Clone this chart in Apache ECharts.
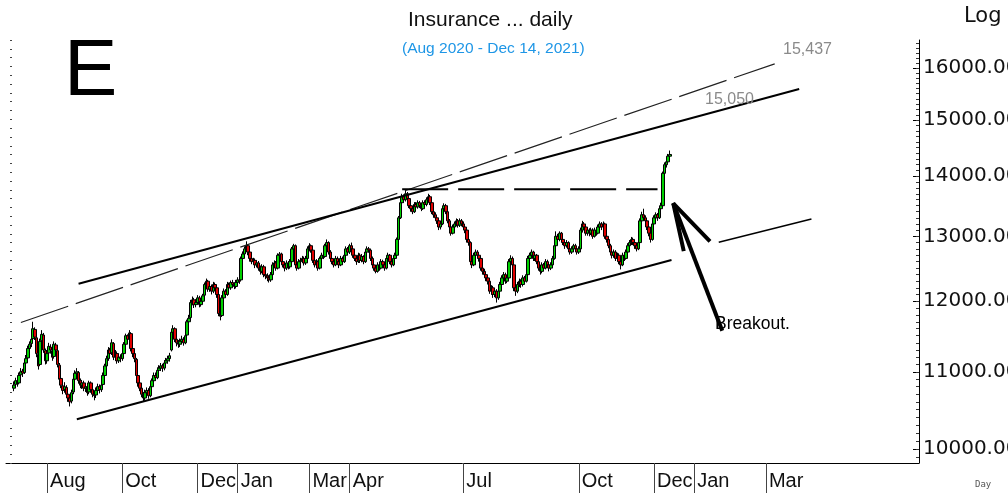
<!DOCTYPE html>
<html>
<head>
<meta charset="utf-8">
<title>Insurance ... daily</title>
<script src="https://cdn.jsdelivr.net/npm/echarts@6/dist/echarts.min.js"></script>
<style>
  html, body { margin: 0; padding: 0; height: 100%; overflow: hidden; background: #fff; }
  #main { width: 1008px; height: 497px; }
</style>
</head>
<body>
<div id="main"></div>
<script>
// daily bars, [open, close, low, high], one array per month
const jul2020 = [
  [10780,10820,10740,10870],[10830,10880,10790,10920],[10880,10850,10800,10910],[10850,10950,10830,10990],
  [10960,11000,10920,11050],[11010,10980,10930,11040],[10990,11120,10970,11160],[11120,11180,11080,11230],
  [11190,11320,11160,11360],[11320,11380,11270,11420],[11390,11450,11340,11500],[11460,11600,11430,11700],
  [11590,11480,11440,11620],[11470,11250,11200,11500],[11240,11080,11030,11280],[11100,11420,11080,11460],
  [11430,11520,11380,11580],[11510,11300,11260,11540],[11290,11150,11100,11320]
];
const aug2020 = [
  [11150,11250,11110,11300],[11260,11350,11220,11400],[11340,11300,11250,11380],[11290,11200,11150,11330],
  [11210,11380,11180,11420],[11370,11300,11260,11400],[11290,11100,11060,11320],[11090,10900,10860,11120],
  [10910,10820,10780,10950],[10810,10750,10700,10850],[10760,10800,10720,10860],[10790,10700,10660,10820],
  [10700,10650,10600,10740],[10650,10600,10540,10690],[10610,10720,10580,10760],[10730,10900,10700,10940],
  [10900,10980,10860,11020],[10980,11000,10930,11050],[10990,10880,10840,11010],[10880,10820,10780,10910],
  [10820,10850,10770,10890]
];
const sep2020 = [
  [10850,10780,10740,10880],[10780,10800,10730,10850],[10800,10720,10680,10830],[10730,10850,10700,10880],
  [10850,10760,10720,10870],[10760,10700,10660,10790],[10700,10680,10620,10740],[10690,10750,10650,10790],
  [10750,10800,10720,10840],[10800,10760,10710,10830],[10760,10820,10730,10860],[10830,10950,10800,10990],
  [10950,11080,10920,11110],[11080,11180,11050,11220],[11180,11300,11150,11340],[11300,11250,11200,11330],
  [11260,11400,11230,11450],[11390,11200,11160,11410],[11200,11250,11150,11300],[11250,11150,11110,11280],
  [11150,11200,11120,11250],[11200,11180,11130,11240]
];
const oct2020 = [
  [11180,11250,11150,11290],[11250,11380,11220,11410],[11380,11500,11350,11530],[11500,11450,11400,11520],
  [11450,11540,11420,11580],[11530,11320,11280,11550],[11320,11250,11200,11350],[11250,11180,11130,11290],
  [11170,10950,10910,11190],[10950,10850,10800,10980],[10850,10780,10740,10880],[10780,10700,10660,10800],
  [10700,10650,10600,10730],[10650,10720,10620,10760],[10720,10750,10680,10790],[10750,10680,10640,10780],
  [10680,10800,10660,10830],[10800,10880,10770,10910],[10880,10950,10850,10990],[10950,10920,10880,10990],
  [10920,11020,10900,11060],[11020,11050,10990,11090]
];
const nov2020 = [
  [11050,11080,11010,11120],[11080,11050,11000,11110],[11050,11120,11020,11160],[11120,11150,11080,11190],
  [11150,11180,11110,11220],[11180,11220,11140,11260],[11300,11550,11280,11590],[11550,11600,11500,11650],
  [11600,11450,11410,11620],[11450,11400,11350,11480],[11400,11380,11330,11440],[11380,11420,11340,11460],
  [11420,11450,11380,11500],[11450,11400,11360,11480],[11400,11500,11380,11540],[11510,11700,11490,11730],
  [11700,11750,11660,11800],[11760,11980,11740,12020],[11980,12020,11940,12070],[12020,11950,11900,12050],
  [11950,11980,11910,12030]
];
const dec2020 = [
  [11980,12050,11950,12090],[12050,11950,11910,12080],[11950,12000,11920,12040],[12000,12080,11970,12110],
  [12090,12250,12070,12280],[12250,12300,12210,12340],[12300,12180,12140,12320],[12180,12220,12140,12260],
  [12220,12150,12100,12250],[12150,12250,12120,12290],[12250,12200,12160,12280],[12200,12100,12050,12230],
  [12100,11820,11780,12120],[11820,11780,11720,11860],[11790,12050,11770,12090],[12050,12150,12020,12190],
  [12150,12100,12060,12180],[12100,12250,12080,12290],[12250,12200,12160,12280],[12200,12280,12170,12310],
  [12280,12250,12210,12320],[12250,12220,12180,12280],[12220,12280,12190,12320]
];
const jan2021 = [
  [12280,12320,12240,12360],[12320,12300,12260,12350],[12320,12650,12300,12680],[12650,12720,12610,12760],
  [12720,12800,12690,12840],[12800,12850,12760,12920],[12850,12750,12700,12870],[12750,12650,12600,12780],
  [12650,12600,12560,12690],[12600,12620,12560,12660],[12620,12550,12500,12650],[12550,12580,12510,12620],
  [12580,12500,12460,12610],[12500,12450,12400,12540],[12450,12520,12420,12560],[12520,12400,12360,12550],
  [12400,12380,12330,12440],[12380,12350,12300,12420],[12350,12320,12280,12390],[12320,12400,12290,12440],
  [12400,12550,12380,12590]
];
const feb2021 = [
  [12550,12580,12510,12620],[12580,12500,12460,12610],[12500,12700,12480,12730],[12700,12720,12660,12750],
  [12720,12600,12560,12740],[12600,12550,12510,12640],[12550,12500,12450,12580],[12500,12580,12470,12620],
  [12580,12520,12480,12610],[12520,12600,12490,12640],[12600,12800,12580,12830],[12800,12850,12760,12880],
  [12850,12550,12510,12870],[12550,12500,12460,12590],[12500,12600,12480,12640],[12600,12620,12560,12660],
  [12620,12650,12580,12690],[12650,12580,12540,12680],[12580,12650,12550,12690],[12650,12800,12630,12840]
];
const mar2021 = [
  [12800,12850,12760,12890],[12850,12780,12740,12870],[12780,12620,12580,12800],[12620,12550,12510,12650],
  [12550,12600,12520,12640],[12600,12500,12460,12620],[12500,12650,12480,12680],[12650,12700,12610,12740],
  [12700,12680,12640,12730],[12680,12850,12660,12880],[12850,12900,12810,12950],[12900,12750,12710,12920],
  [12750,12650,12610,12780],[12650,12600,12560,12680],[12600,12550,12510,12630],[12550,12650,12530,12690],
  [12650,12600,12560,12680],[12600,12550,12500,12630],[12550,12650,12530,12690],[12650,12600,12560,12680],
  [12600,12700,12580,12740],[12700,12800,12670,12840],[12800,12750,12700,12830]
];
const apr2021 = [
  [12750,12850,12720,12880],[12850,12800,12760,12900],[12800,12700,12660,12820],[12700,12650,12610,12730],
  [12650,12600,12550,12680],[12600,12700,12580,12740],[12700,12620,12580,12730],[12620,12680,12590,12720],
  [12680,12600,12560,12700],[12600,12750,12580,12790],[12750,12800,12710,12840],[12800,12780,12740,12830],
  [12780,12650,12610,12800],[12650,12550,12510,12680],[12550,12500,12460,12580],[12500,12450,12420,12540],
  [12450,12550,12430,12590],[12550,12500,12460,12580],[12500,12600,12480,12640],[12600,12550,12510,12630],
  [12550,12500,12460,12580],[12500,12650,12480,12680]
];
const may2021 = [
  [12650,12700,12610,12740],[12700,12600,12560,12720],[12600,12550,12510,12630],[12550,12650,12530,12690],
  [12650,12700,12620,12740],[12700,12950,12680,12980],[12950,13300,12930,13330],[13300,13550,13280,13590],
  [13550,13650,13510,13700],[13650,13600,13550,13690],[13600,13700,13570,13750],[13700,13620,13580,13730],
  [13620,13500,13460,13650],[13500,13450,13400,13530],[13450,13400,13360,13480],[13400,13520,13380,13560],
  [13520,13480,13440,13560],[13480,13550,13450,13590],[13550,13500,13460,13580],[13500,13450,13410,13540],
  [13450,13550,13430,13590]
];
const jun2021 = [
  [13550,13520,13480,13590],[13520,13600,13490,13640],[13600,13650,13570,13700],[13650,13550,13510,13680],
  [13550,13400,13360,13580],[13400,13350,13300,13440],[13350,13300,13260,13390],[13300,13250,13200,13330],
  [13250,13150,13100,13280],[13150,13200,13110,13240],[13200,13450,13180,13480],[13450,13500,13410,13540],
  [13500,13400,13360,13530],[13400,13250,13210,13430],[13250,13150,13100,13280],[13150,13050,13010,13180],
  [13050,13150,13030,13190],[13150,13200,13110,13240],[13200,13250,13160,13290],[13250,13180,13140,13280],
  [13180,13250,13150,13290],[13250,13200,13160,13280]
];
const jul2021 = [
  [13200,13150,13100,13240],[13150,13100,13050,13190],[13100,12950,12900,13120],[12950,12900,12850,12980],
  [12900,12600,12560,12920],[12600,12550,12500,12640],[12550,12700,12530,12740],[12700,12750,12660,12790],
  [12750,12700,12650,12780],[12700,12650,12600,12730],[12650,12500,12460,12680],[12500,12450,12400,12540],
  [12450,12400,12360,12490],[12400,12350,12300,12440],[12350,12300,12250,12390],[12300,12150,12110,12330],
  [12150,12200,12100,12240],[12200,12100,12050,12230],[12100,12150,12060,12190],[12150,12050,11980,12180],
  [12050,12150,12020,12190],[12150,12250,12120,12290]
];
const aug2021 = [
  [12250,12350,12220,12390],[12350,12400,12310,12440],[12400,12300,12260,12430],[12300,12350,12270,12390],
  [12350,12600,12330,12640],[12600,12650,12560,12700],[12650,12550,12500,12680],[12550,12200,12150,12570],
  [12200,12150,12080,12240],[12150,12250,12120,12290],[12250,12300,12210,12340],[12300,12250,12200,12330],
  [12250,12350,12220,12390],[12350,12300,12260,12380],[12300,12400,12280,12440],[12400,12650,12380,12690],
  [12650,12700,12610,12740],[12700,12750,12660,12790],[12750,12650,12610,12770],[12650,12700,12610,12740],
  [12700,12600,12560,12720],[12600,12500,12460,12630]
];
const sep2021 = [
  [12500,12450,12400,12530],[12450,12550,12420,12590],[12550,12500,12460,12580],[12500,12600,12480,12640],
  [12600,12550,12510,12630],[12550,12500,12450,12580],[12500,12550,12470,12590],[12550,12650,12530,12690],
  [12650,12850,12630,12890],[12850,13000,12820,13080],[13000,12950,12900,13040],[12950,13050,12920,13080],
  [13050,12950,12910,13070],[12950,12900,12860,12980],[12900,12850,12800,12930],[12850,12900,12820,12940],
  [12900,12800,12760,12920],[12800,12750,12710,12830],[12750,12800,12720,12840],[12800,12850,12760,12880],
  [12850,12800,12760,12880],[12800,12750,12710,12830]
];
const oct2021 = [
  [12750,12800,12720,12840],[12800,13100,12780,13140],[13100,13200,13060,13250],[13200,13150,13100,13230],
  [13150,13050,13010,13180],[13050,13100,13010,13140],[13100,13050,13000,13130],[13050,13100,13020,13140],
  [13100,13000,12960,13130],[13000,13100,12980,13140],[13100,13050,13010,13130],[13050,13150,13030,13190],
  [13150,13200,13110,13240],[13200,13150,13100,13230],[13150,13200,13120,13240],[13200,13000,12960,13220],
  [13000,12950,12900,13040],[12950,12850,12810,12980],[12850,12750,12710,12880],[12750,12700,12650,12790],
  [12700,12750,12660,12790]
];
const nov2021 = [
  [12750,12650,12610,12780],[12650,12700,12610,12740],[12700,12600,12560,12730],[12600,12550,12480,12640],
  [12550,12700,12530,12740],[12700,12650,12610,12730],[12650,12750,12630,12790],[12750,12850,12720,12890],
  [12850,12900,12810,12940],[12900,12950,12860,12990],[12950,12900,12860,12980],[12900,12850,12800,12930],
  [12850,12800,12760,12880],[12800,12900,12780,12940],[12900,13250,12880,13290],[13250,13350,13210,13400],
  [13350,13300,13260,13450],[13300,13250,13200,13340],[13250,13150,13100,13280],[13150,13050,13000,13180],
  [13050,12950,12900,13080],[12950,13200,12930,13240]
];
const dec2021 = [
  [13200,13300,13170,13340],[13300,13350,13260,13390],[13350,13300,13250,13380],[13300,13450,13280,13490],
  [13450,13500,13410,13550],[13500,14050,13480,14080],[14050,14200,14010,14240],[14200,14250,14150,14290],
  [14250,14350,14210,14390],[14350,14380,14300,14450]
];

const firstBarDate = '2020-07-07';
const axisStart = '2020-07-01';
const axisEnd = '2022-06-30';

// months that get a label on the time axis
const labelMonths = ['2020-08', '2020-10', '2020-12', '2021-01', '2021-03', '2021-04',
                     '2021-07', '2021-10', '2021-12', '2022-01', '2022-03'];
const monthNames = ['Jan', 'Feb', 'Mar', 'Apr', 'May', 'Jun', 'Jul', 'Aug', 'Sep', 'Oct', 'Nov', 'Dec'];

const priceTicks = [10000, 11000, 12000, 13000, 14000, 15000, 16000];
const priceMin = 9830;
const priceMax = 16560;

// drawn lines, [date, price]
const upperLine = [['2020-08-27', 12260], ['2022-03-28', 15590]];
const upperDashed = [['2020-07-13', 11690], ['2022-03-08', 16080]];
const supportLine = [['2020-08-26', 10375], ['2021-12-15', 12625]];
const supportLine2 = [['2022-01-21', 12905], ['2022-04-06', 13280]];
const breakoutLevel = [['2021-05-13', 13775], ['2021-12-03', 13775]];
const arrowShaft = [['2021-12-16', 13540], ['2022-01-25', 11570]];
const arrowHead = [['2022-01-14', 12920], ['2021-12-16', 13540], ['2021-12-24', 12765]];

// weekday categories for the whole axis
const dates = [];
for (let d = new Date(axisStart + 'T00:00:00Z'); d <= new Date(axisEnd + 'T00:00:00Z'); d.setUTCDate(d.getUTCDate() + 1)) {
    const wd = d.getUTCDay();
    if (wd !== 0 && wd !== 6) dates.push(d.toISOString().slice(0, 10));
}

const bars = [].concat(jul2020, aug2020, sep2020, oct2020, nov2020, dec2020,
    jan2021, feb2021, mar2021, apr2021, may2021, jun2021,
    jul2021, aug2021, sep2021, oct2021, nov2021, dec2021);
const start = dates.indexOf(firstBarDate);
const lg = v => Math.log10(v);

const candleData = dates.map((d, i) => {
    const b = bars[i - start];
    return b ? b.map(lg) : '-';
});

// first weekday of each labelled month
const labelIdx = new Set();
labelMonths.forEach(m => labelIdx.add(dates.findIndex(d => d.slice(0, 7) === m)));
const showMonth = idx => labelIdx.has(idx);

const toPts = pts => pts.map(p => [dates.indexOf(p[0]), lg(p[1])]);

function lineSeries(pts, width, type, color) {
    return {
        type: 'line',
        data: toPts(pts),
        yAxisIndex: 0,
        symbol: 'none',
        silent: true,
        z: 5,
        lineStyle: { color: color || '#000', width: width, type: type || 'solid' }
    };
}

const minorTicks = [];
for (let v = 9900; v <= 16500; v += 100) minorTicks.push(lg(v));

const chart = echarts.init(document.getElementById('main'));

chart.setOption({
    animation: false,
    backgroundColor: '#fff',
    grid: { left: 6, right: 89, top: 40, bottom: 34, containLabel: false, outerBoundsMode: 'none' },
    xAxis: {
        type: 'category',
        data: dates,
        axisLine: { lineStyle: { color: '#000', width: 1 } },
        axisTick: {
            show: true,
            alignWithLabel: true,
            interval: showMonth,
            length: 30,
            lineStyle: { color: '#444', width: 1 }
        },
        axisLabel: {
            interval: showMonth,
            formatter: v => monthNames[+v.slice(5, 7) - 1],
            align: 'left',
            padding: [0, 0, 0, 3],
            margin: 8,
            color: '#111',
            fontSize: 20,
            fontFamily: 'Liberation Sans'
        },
        splitLine: { show: false }
    },
    yAxis: [{
        type: 'value',
        position: 'right',
        min: lg(priceMin),
        max: lg(priceMax),
        axisLine: { show: true, lineStyle: { color: '#000' } },
        axisTick: { show: true, inside: true, length: 6, customValues: priceTicks.map(lg), lineStyle: { color: '#000' } },
        axisLabel: {
            customValues: priceTicks.map(lg),
            formatter: v => Math.round(Math.pow(10, v)).toFixed(2),
            margin: 4,
            color: '#111',
            fontSize: 20,
            fontFamily: 'DejaVu Sans'
        },
        splitLine: { show: false }
    }, {
        type: 'value',
        position: 'right',
        min: lg(priceMin),
        max: lg(priceMax),
        axisLine: { show: false },
        axisTick: { show: true, inside: true, length: 3, customValues: minorTicks, lineStyle: { color: '#333' } },
        axisLabel: { show: false },
        splitLine: { show: false }
    }, {
        type: 'value',
        position: 'left',
        offset: -4,
        min: 0,
        max: 48,
        interval: 1,
        axisLine: { show: false },
        axisTick: { show: true, inside: true, length: 2, lineStyle: { color: '#444' } },
        axisLabel: { show: false },
        splitLine: { show: false }
    }],
    series: [{
        type: 'candlestick',
        data: candleData,
        yAxisIndex: 0,
        barWidth: 3,
        itemStyle: {
            color: '#00d000',
            color0: '#e00000',
            borderColor: '#000',
            borderColor0: '#000',
            borderWidth: 1
        }
    },
    lineSeries(upperDashed, 1.2, [50, 8], '#222'),
    lineSeries(upperLine, 2),
    lineSeries(supportLine, 2),
    lineSeries(supportLine2, 1.5),
    lineSeries(breakoutLevel, 2, [46, 10]),
    lineSeries(arrowShaft, 4),
    lineSeries(arrowHead, 4)
    ],
    graphic: [
        { type: 'text', left: 408, top: 10, style: { text: 'Insurance ... daily', font: '21px "Liberation Sans"', fill: '#111' } },
        { type: 'text', left: 402, top: 41, style: { text: '(Aug 2020 - Dec 14, 2021)', font: '15.5px "Liberation Sans"', fill: '#1e96e6' } },
        { type: 'text', left: 964, top: 6, style: { text: 'Log', font: '21px "DejaVu Sans"', fill: '#111' } },
        { type: 'text', left: 64, top: 33, style: { text: 'E', font: '80px "Liberation Sans"', fill: '#000' } },
        { type: 'text', left: 783, top: 42, style: { text: '15,437', font: '16px "Liberation Sans"', fill: '#8a8a8a' } },
        { type: 'text', left: 705, top: 92, z: 10, style: { text: '15,050', font: '16px "Liberation Sans"', fill: '#8a8a8a' } },
        { type: 'text', left: 715, top: 315, style: { text: 'Breakout.', font: '17.5px "Liberation Sans"', fill: '#000' } },
        { type: 'text', left: 975, top: 480, style: { text: 'Day', font: '9px "DejaVu Sans Mono"', fill: '#555' } }
    ]
});
</script>
</body>
</html>
